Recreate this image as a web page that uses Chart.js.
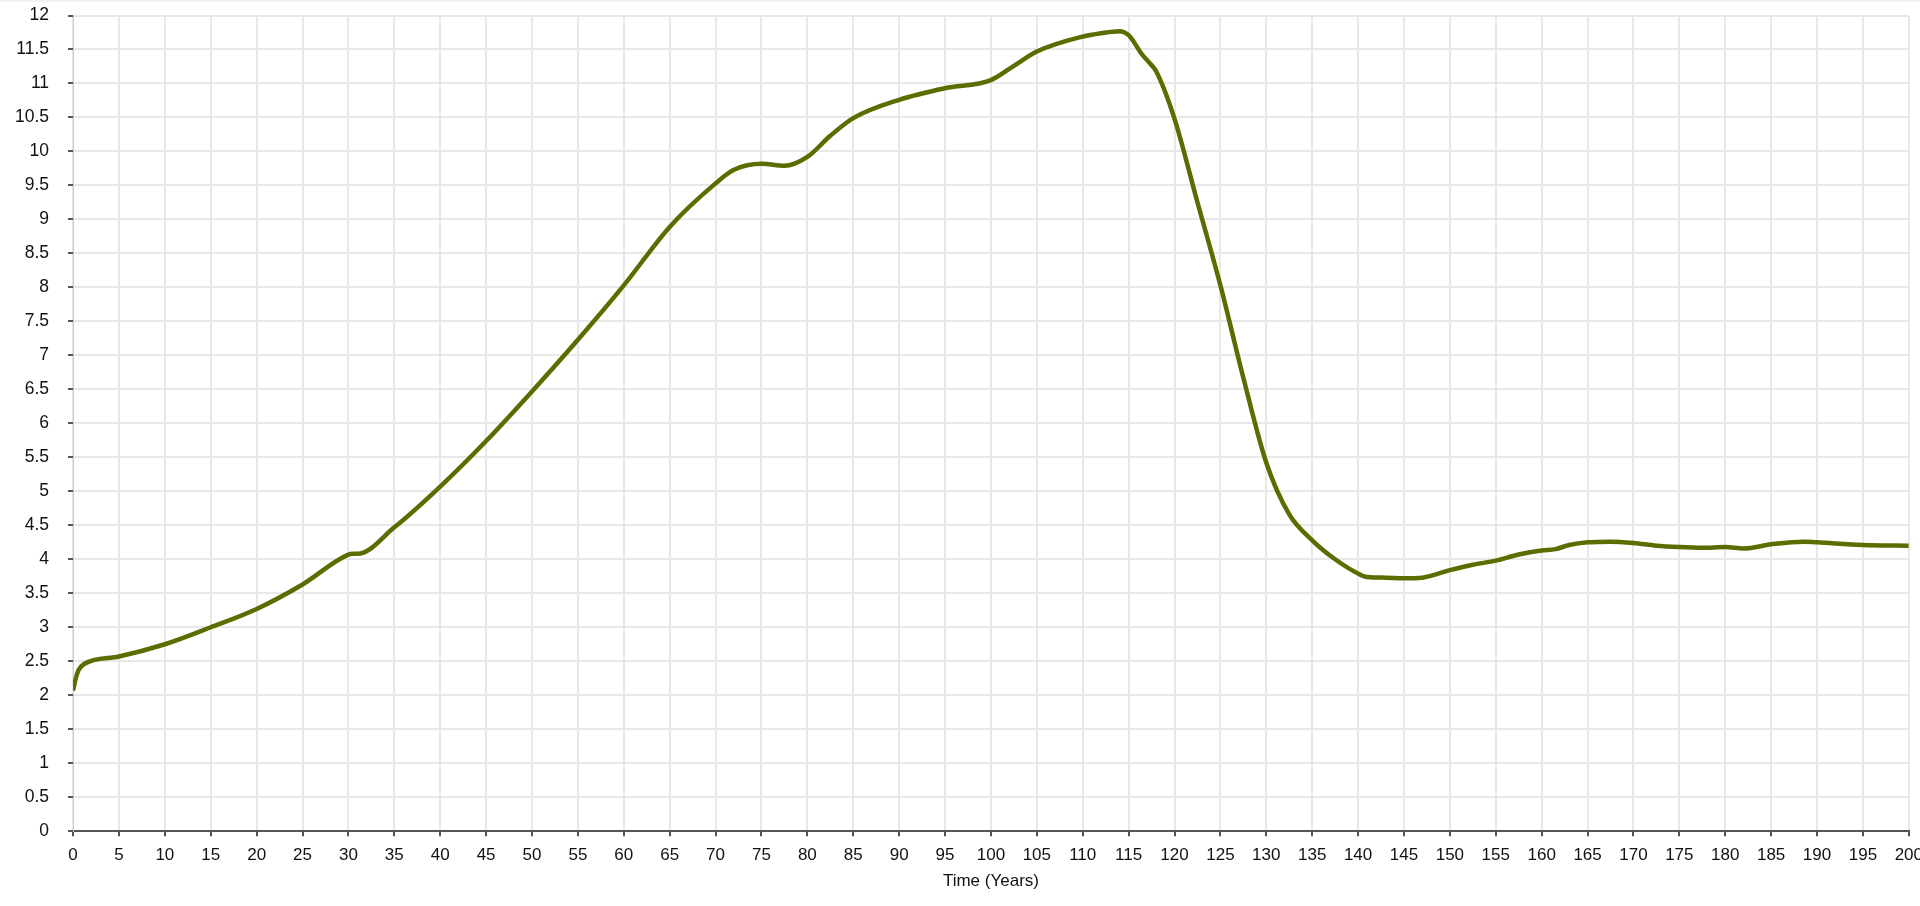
<!DOCTYPE html>
<html>
<head>
<meta charset="utf-8">
<script src="https://cdn.jsdelivr.net/npm/chart.js@4.4.1/dist/chart.umd.min.js"></script>
<style>
  html, body { margin: 0; padding: 0; overflow: hidden; background: #fff; }
  #band { position: absolute; left: 0; top: 0; width: 1920px; height: 2px; background: #f2f2f2; z-index: 2; }
  #wrap { position: absolute; left: 0; top: -14px; width: 1932px; height: 918px; }
</style>
</head>
<body>
<div id="band"></div>
<div id="wrap"><canvas id="myChart"></canvas></div>
<script>
// years
let times = [0, 0.3, 0.6, 1.2, 5, 10, 15, 20, 25, 30, 30.5, 31, 35, 40, 45, 50, 55, 60, 65, 70,
  72, 75, 77.5, 80, 82.5, 85, 90, 95, 100, 102.5, 105, 110, 112, 114, 115, 116.5, 117.3, 118,
  120, 122.5, 125, 127.5, 130, 132.5, 135, 137.5, 140, 141, 143, 145, 147, 150, 152.5, 155,
  157.5, 160, 161.5, 163, 165, 167.5, 170, 172.5, 175, 177.5, 180, 182, 185, 188.5, 190, 195, 200];

let values = [2.07, 2.25, 2.37, 2.46, 2.57, 2.75, 3.0, 3.27, 3.63, 4.07, 4.08, 4.08, 4.47, 5.07,
  5.74, 6.47, 7.23, 8.03, 8.89, 9.53, 9.73, 9.82, 9.79, 9.92, 10.23, 10.49, 10.76, 10.93, 11.05,
  11.26, 11.47, 11.69, 11.74, 11.77, 11.71, 11.42, 11.3, 11.18, 10.48, 9.25, 8.03, 6.67, 5.42,
  4.66, 4.28, 4.0, 3.79, 3.74, 3.73, 3.72, 3.73, 3.84, 3.92, 3.98, 4.07, 4.13, 4.15, 4.21, 4.25,
  4.26, 4.24, 4.2, 4.18, 4.17, 4.18, 4.16, 4.22, 4.26, 4.25, 4.21, 4.2];

let xTitle = "Time (Years)";

let points = times.map((t, i) => ({ x: t, y: values[i] }));

let fontFamily = "'Liberation Sans', Arial, sans-serif";
let ctx = document.getElementById('myChart').getContext('2d');
let myChart = new Chart(ctx, {
    type: 'line',
    data: {
        datasets: [{
            data: points,
            borderColor: '#5a6e00',
            borderWidth: 4.5,
            pointRadius: 0,
            fill: false,
            cubicInterpolationMode: 'monotone'
        }]
    },
    options: {
        responsive: true,
        maintainAspectRatio: false,
        animation: false,
        layout: { padding: { left: -4, top: 0, right: 0, bottom: 12 } },
        plugins: { legend: { display: false }, tooltip: { enabled: false } },
        scales: {
            x: {
                type: 'linear',
                min: 0,
                max: 200,
                ticks: { stepSize: 5, autoSkip: false, maxRotation: 0, padding: 9, color: '#111', font: { family: fontFamily, size: 17 } },
                grid: { color: '#e8e8e8', lineWidth: 2, tickLength: 5, tickColor: '#555', tickWidth: 2 },
                border: { color: '#555', width: 2 },
                title: { display: true, text: xTitle, color: '#111', padding: { top: -3, bottom: 0 }, font: { family: fontFamily, size: 17 } }
            },
            y: {
                min: 0,
                max: 12,
                ticks: { stepSize: 0.5, padding: 19, color: '#111', font: { family: fontFamily, size: 17.5 },
                    callback: v => String(v) },
                grid: { color: '#e8e8e8', lineWidth: 2, tickLength: 5, tickColor: '#555', tickWidth: 2 },
                border: { color: '#ccc', width: 1 }
            }
        }
    }
});
</script>
</body>
</html>
